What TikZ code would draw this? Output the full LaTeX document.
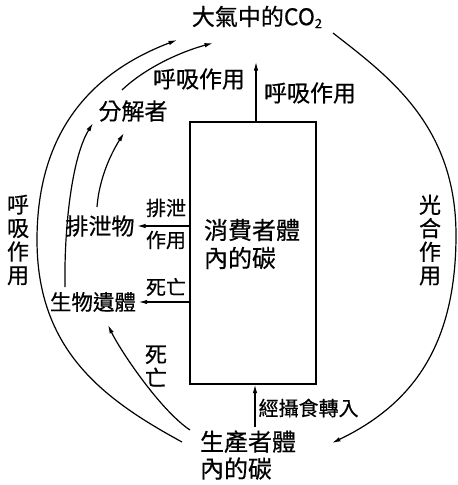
\documentclass[tikz,border=0pt]{standalone}
\usepackage{fontspec}
\setmainfont[FakeBold=0.5]{Noto Sans CJK TC}
\usetikzlibrary{arrows.meta}
\begin{document}
\begin{tikzpicture}[x=1pt,y=-1pt,line width=1.2pt,
  arr/.style={-{Latex[length=8.5pt,width=4.5pt]}},
  lbl/.style={inner sep=0pt,font=\fontsize{23}{27}\selectfont},
  lbls/.style={inner sep=0pt,font=\fontsize{20}{24}\selectfont},
  vlbl/.style={inner sep=0pt,align=center,font=\fontsize{22}{23.5}\selectfont},
  boxst/.style={draw,inner sep=0pt,minimum width=126pt,minimum height=262pt}]
\useasboundingbox (0,0) rectangle (458,485);
% nodes
\node[lbl] (co2) at (257,17) {大氣中的CO\raisebox{-3pt}{\fontsize{13}{13}\selectfont 2}};
\node[boxst] (box) at (253,253) {};
\node[lbl,align=left,font=\fontsize{24}{28}\selectfont] (cons) at (252,244) {消費者體\\內的碳};
\node[lbl] (resp1) at (310,93) {呼吸作用};
\node[lbl] (resp2) at (199,79) {呼吸作用};
\node[lbl] (dec) at (133,111) {分解者};
\node[lbl] (exc) at (100,226) {排泄物};
\node[lbls] (exc1) at (166,208) {排泄};
\node[lbls] (exc2) at (166,240) {作用};
\node[lbls] (die1) at (166,287) {死亡};
\node[lbl,font=\fontsize{21.5}{26}\selectfont] (rem) at (93,302) {生物遺體};
\node[vlbl] (vresp) at (18,240) {呼\\吸\\作\\用};
\node[vlbl] (vphoto) at (430,240) {光\\合\\作\\用};
\node[vlbl] (vdie) at (156,366) {死\\亡};
\node[lbl,align=left,font=\fontsize{24}{27}\selectfont] (prod) at (248,455) {生產者體\\內的碳};
\node[lbls,anchor=west] (eat) at (258,408) {經攝食轉入};
% coordinates
\coordinate (up) at (256,62);
\coordinate (pu) at (255,427);
\coordinate (a0) at (182,442);
\coordinate (am) at (37,240);
\coordinate (a1) at (177,40);
\coordinate (e0) at (333,33);
\coordinate (em) at (456,235);
\coordinate (e1) at (332,443);
\coordinate (b0) at (65,287);
\coordinate (b1) at (93,123);
\coordinate (c0) at (97,207);
\coordinate (c1) at (124,133);
\coordinate (d0) at (122,90);
\coordinate (d1) at (213,43);
\coordinate (f0) at (190,430);
\coordinate (f1) at (108,325);
% connectors
\draw[arr] (up |- box.north) -- (up);
\draw[arr] (pu) -- (pu |- box.south);
\draw[arr] (box.west |- exc) -- ([xshift=2pt]exc.east);
\draw[arr] (box.west |- rem) -- ([xshift=2pt]rem.east);
\draw[arr] (a0) .. controls (103,399) and (37,350) .. (am) .. controls (37,130) and (93,72) .. (a1);
\draw[arr] (e0) .. controls (388,76) and (456,125) .. (em) .. controls (456,345) and (413,404) .. (e1);
\draw[arr] (b0) .. controls (64,227) and (72,157) .. (b1);
\draw[arr] (c0) .. controls (99,180) and (110,155) .. (c1);
\draw[arr] (d0) .. controls (145,68) and (180,52) .. (d1);
\draw[arr] (f0) .. controls (160,410) and (120,350) .. (f1);
\end{tikzpicture}
\end{document}
